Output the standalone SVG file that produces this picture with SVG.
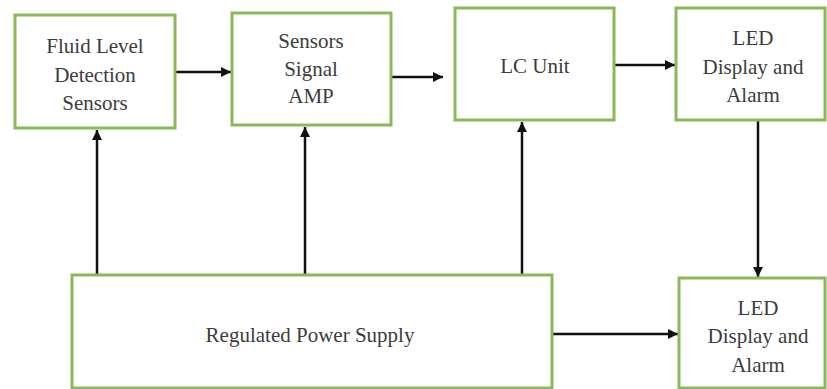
<svg xmlns="http://www.w3.org/2000/svg" width="827" height="389" viewBox="0 0 827 389">
<style>
.box{fill:#ffffff;stroke:#8cb85a;stroke-width:3}
.t{font-family:"Liberation Serif","Times New Roman",serif;font-size:21px;fill:#3c3c3c;text-anchor:middle}
.c{stroke:#111111;stroke-width:2.5;fill:none}
</style>
<defs>
<marker id="ah" viewBox="0 0 10 10" refX="10" refY="5" markerWidth="4" markerHeight="4" orient="auto" markerUnits="strokeWidth">
<path d="M0,0 L10,5 L0,10 z" fill="#111111"/>
</marker>
</defs>
<rect width="827" height="389" fill="#ffffff"/>
<g id="connectors">
<line class="c" x1="176" y1="72" x2="231" y2="72" marker-end="url(#ah)"/>
<line class="c" x1="392" y1="77" x2="443" y2="77" marker-end="url(#ah)"/>
<line class="c" x1="615" y1="65" x2="675" y2="65" marker-end="url(#ah)"/>
<line class="c" x1="758" y1="121" x2="758" y2="277" marker-end="url(#ah)"/>
<line class="c" x1="97" y1="274" x2="97" y2="130" marker-end="url(#ah)"/>
<line class="c" x1="305" y1="274" x2="305" y2="127" marker-end="url(#ah)"/>
<line class="c" x1="522" y1="274" x2="522" y2="122" marker-end="url(#ah)"/>
<line class="c" x1="553" y1="334" x2="678" y2="334" marker-end="url(#ah)"/>
</g>
<g id="fluid">
<rect class="box" x="15" y="15" width="160" height="113"/>
<text class="t" x="95" y="53">Fluid Level</text>
<text class="t" x="95" y="82">Detection</text>
<text class="t" x="95" y="110">Sensors</text>
</g>
<g id="amp">
<rect class="box" x="232" y="13" width="159" height="112"/>
<text class="t" x="311" y="48">Sensors</text>
<text class="t" x="311" y="76">Signal</text>
<text class="t" x="311" y="103">AMP</text>
</g>
<g id="lc">
<rect class="box" x="455" y="8" width="159" height="112"/>
<text class="t" x="535" y="73">LC Unit</text>
</g>
<g id="led1">
<rect class="box" x="676" y="8" width="149" height="112"/>
<text class="t" x="753" y="45">LED</text>
<text class="t" x="753" y="74">Display and</text>
<text class="t" x="753" y="102">Alarm</text>
</g>
<g id="rps">
<rect class="box" x="72" y="275" width="480" height="113"/>
<text class="t" x="310" y="342">Regulated Power Supply</text>
</g>
<g id="led2">
<rect class="box" x="679" y="278" width="146" height="110"/>
<text class="t" x="758" y="315">LED</text>
<text class="t" x="758" y="343">Display and</text>
<text class="t" x="758" y="372">Alarm</text>
</g>
</svg>
